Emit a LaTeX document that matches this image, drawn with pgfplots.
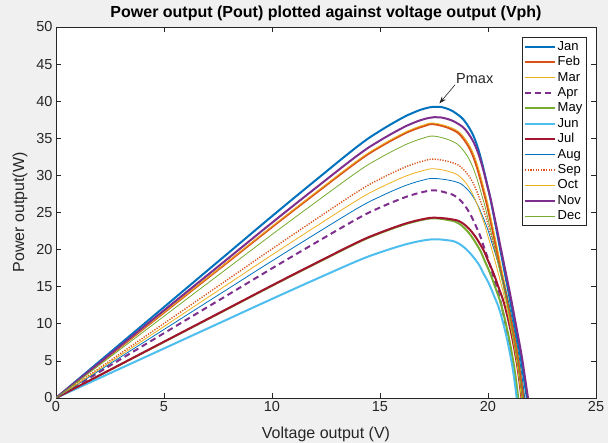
\documentclass[border=0pt]{standalone}
\usepackage{fontspec}
\setmainfont{Liberation Sans}
\usepackage{pgfplots}
\pgfplotsset{compat=1.18}
\usetikzlibrary{arrows.meta}
\definecolor{c1}{rgb}{0,0.447,0.741}
\definecolor{c2}{rgb}{0.851,0.325,0.098}
\definecolor{c3}{rgb}{0.929,0.694,0.125}
\definecolor{c4}{rgb}{0.494,0.184,0.556}
\definecolor{c5}{rgb}{0.466,0.674,0.188}
\definecolor{c6}{rgb}{0.301,0.745,0.933}
\definecolor{c7}{rgb}{0.635,0.078,0.184}
\definecolor{figbg}{RGB}{240,240,240}
\definecolor{axc}{RGB}{38,38,38}
\begin{document}
\begin{tikzpicture}
\fill[figbg] (0,0) rectangle (608pt,443pt);
\begin{axis}[
  at={(56pt,45pt)}, anchor=south west,
  scale only axis, width=540pt, height=371pt,
  xmin=0, xmax=25, ymin=0, ymax=50,
  xtick={0,5,...,25}, ytick={0,5,...,50},
  axis background/.style={fill=white},
  axis line style={draw=axc, line width=0.6pt},
  every tick/.style={draw=axc, line width=0.6pt},
  major tick length=5pt,
  tick align=inside,
  /pgf/number format/assume math mode=true,
  tick label style={font=\fontsize{14.5}{17}\selectfont, text=axc},
  xlabel={Voltage output (V)},
  ylabel={Power output(W)},
  xlabel style={at={(axis description cs:0.5,-0.097)}, anchor=center, inner sep=0pt, font=\fontsize{16}{18}\selectfont, text=axc},
  ylabel style={at={(axis description cs:-0.0667,0.5)}, anchor=center, inner sep=0pt, rotate=0, font=\fontsize{16}{18}\selectfont, text=axc},
  title={Power output (Pout) plotted against voltage output (Vph)},
  title style={at={(axis description cs:0.5,1.0216)}, anchor=center, inner sep=0pt, font=\fontsize{16}{18}\selectfont\bfseries},
  legend cell align=left,
  legend image code/.code={\draw[#1] (0pt,0pt) -- (30pt,0pt);},
  legend style={at={(axis description cs:0.9815,0.9739)}, anchor=north east,
    draw=axc, line width=0.5pt, fill=white,
    font=\fontsize{13}{15}\selectfont,
    nodes={inner xsep=1.5pt, inner ysep=0.5pt, text height=10.8pt, text depth=3.6pt},
    row sep=0pt, inner xsep=2pt, inner ysep=2pt},
  every axis plot/.append style={smooth, tension=0.65},
]
\addplot[c1, line width=2pt] coordinates {(0,0)(2,4.9)(4,9.8)(6,14.7)(8,19.6)(10,24.5)(12,29.3)(14,34.0)(15,36.0)(16,37.7)(16.5,38.4)(17,38.95)(17.5,39.25)(18,39.1)(18.5,38.4)(19,37.0)(19.5,34.0)(20,28.3)(20.25,24.8)(20.5,21.0)(20.75,17.25)(21,13.5)(21.3,8.8)(21.5,5.7)(21.65,2.85)(21.8,0)};
\addlegendentry{Jan}
\addplot[c2, line width=2pt] coordinates {(0,0)(2,4.61)(4,9.21)(6,13.82)(8,18.42)(10,23.03)(12,27.54)(14,31.96)(15,33.84)(16,35.44)(16.5,36.10)(17,36.61)(17.5,36.90)(18.35,36.17)(18.85,34.98)(19.35,32.28)(19.85,27.23)(20.1,24.08)(20.35,20.66)(20.6,17.19)(20.85,13.73)(21.15,9.13)(21.35,5.96)(21.5,3.09)(21.65,0)};
\addlegendentry{Feb}
\addplot[c3, line width=0.8pt] coordinates {(0,0)(2,4.63)(4,9.25)(6,13.88)(8,18.50)(10,23.13)(12,27.66)(14,32.10)(15,33.98)(16,35.59)(16.5,36.25)(17,36.77)(17.5,37.05)(18.4,36.31)(18.9,35.11)(19.4,32.39)(19.9,27.30)(20.15,24.12)(20.4,20.68)(20.65,17.19)(20.9,13.71)(21.2,9.11)(21.4,5.95)(21.55,3.08)(21.7,0)};
\addlegendentry{Mar}
\addplot[c4, line width=2pt, dash pattern=on 6pt off 4pt] coordinates {(0,0)(2,3.49)(4,6.99)(6,10.48)(8,13.97)(10,17.47)(12,20.89)(14,24.24)(15,25.67)(16,26.88)(16.5,27.38)(17,27.77)(17.5,27.99)(18.05,27.68)(18.55,27.07)(19.05,25.41)(19.55,22.46)(19.8,20.43)(20.05,18.31)(20.3,15.89)(20.55,13.37)(20.85,9.41)(21.05,6.28)(21.2,3.47)(21.35,0)};
\addlegendentry{Apr}
\addplot[c5, line width=2pt] coordinates {(0,0)(2,3.02)(4,6.05)(6,9.07)(8,12.09)(10,15.12)(12,18.08)(14,20.98)(15,22.21)(16,23.26)(16.5,23.69)(17,24.03)(17.5,24.22)(18.1,24.01)(18.6,23.60)(19.1,22.30)(19.6,20.08)(19.85,18.46)(20.1,16.80)(20.35,14.79)(20.6,12.65)(20.9,9.05)(21.1,6.08)(21.25,3.42)(21.4,0)};
\addlegendentry{May}
\addplot[c6, line width=2pt] coordinates {(0,0)(2,2.67)(4,5.34)(6,8.01)(8,10.68)(10,13.35)(12,15.97)(14,18.53)(15,19.62)(16,20.55)(16.5,20.93)(17,21.23)(17.5,21.39)(18.03,21.29)(18.53,20.99)(19.03,19.94)(19.53,18.19)(19.78,16.84)(20.03,15.49)(20.28,13.76)(20.53,11.90)(20.83,8.60)(21.03,5.80)(21.18,3.30)(21.33,0)};
\addlegendentry{Jun}
\addplot[c7, line width=2pt] coordinates {(0,0)(2,3.03)(4,6.07)(6,9.10)(8,12.13)(10,15.17)(12,18.14)(14,21.05)(15,22.28)(16,23.34)(16.5,23.77)(17,24.11)(17.5,24.30)(18.25,24.11)(18.75,23.69)(19.25,22.39)(19.75,20.15)(20,18.51)(20.25,16.85)(20.5,14.82)(20.75,12.68)(21.05,9.07)(21.25,6.09)(21.4,3.42)(21.55,0)};
\addlegendentry{Jul}
\addplot[c1, line width=0.8pt] coordinates {(0,0)(2,3.69)(4,7.39)(6,11.08)(8,14.78)(10,18.47)(12,22.09)(14,25.64)(15,27.14)(16,28.43)(16.5,28.95)(17,29.37)(17.5,29.59)(18.4,29.22)(18.9,28.52)(19.4,26.69)(19.9,23.41)(20.15,21.19)(20.4,18.86)(20.65,16.26)(20.9,13.58)(21.2,9.48)(21.4,6.31)(21.55,3.46)(21.7,0)};
\addlegendentry{Aug}
\addplot[c2, line width=1.4pt, dash pattern=on 1.2pt off 1.4pt] coordinates {(0,0)(2,4.02)(4,8.04)(6,12.05)(8,16.07)(10,20.09)(12,24.03)(14,27.88)(15,29.52)(16,30.91)(16.5,31.49)(17,31.94)(17.5,32.19)(18.35,31.71)(18.85,30.85)(19.35,28.73)(19.85,24.86)(20.1,22.32)(20.35,19.63)(20.6,16.73)(20.85,13.77)(21.15,9.48)(21.35,6.27)(21.5,3.38)(21.65,0)};
\addlegendentry{Sep}
\addplot[c3, line width=0.8pt] coordinates {(0,0)(2,3.86)(4,7.71)(6,11.57)(8,15.43)(10,19.28)(12,23.06)(14,26.76)(15,28.33)(16,29.67)(16.5,30.22)(17,30.65)(17.5,30.89)(18.25,30.47)(18.75,29.69)(19.25,27.71)(19.75,24.15)(20,21.77)(20.25,19.27)(20.5,16.52)(20.75,13.69)(21.05,9.50)(21.25,6.30)(21.4,3.43)(21.55,0)};
\addlegendentry{Oct}
\addplot[c4, line width=2pt] coordinates {(0,0)(2,4.72)(4,9.45)(6,14.17)(8,18.89)(10,23.62)(12,28.25)(14,32.78)(15,34.70)(16,36.34)(16.5,37.02)(17,37.55)(17.5,37.84)(18,37.7)(18.55,37.07)(19.05,35.81)(19.55,32.97)(20.05,27.67)(20.3,24.38)(20.55,20.81)(20.8,17.22)(21.05,13.64)(21.35,9.00)(21.55,5.86)(21.7,3.00)(21.85,0)};
\addlegendentry{Nov}
\addplot[c5, line width=0.8pt] coordinates {(0,0)(2,4.41)(4,8.81)(6,13.22)(8,17.62)(10,22.03)(12,26.34)(14,30.57)(15,32.36)(16,33.89)(16.5,34.52)(17,35.02)(17.5,35.29)(18.3,34.66)(18.8,33.58)(19.3,31.09)(19.8,26.46)(20.05,23.52)(20.3,20.36)(20.55,17.09)(20.8,13.80)(21.1,9.29)(21.3,6.10)(21.45,3.21)(21.6,0)};
\addlegendentry{Dec}
\draw[-{Stealth[length=7pt,width=5pt]}, axc, line width=0.6pt] (axis cs:18.47,42.2) -- (axis cs:17.75,39.7);
\node[anchor=west, inner sep=0pt, font=\fontsize{14.5}{17}\selectfont, text=axc] at (axis cs:18.52,43.1) {Pmax};
\end{axis}
\pgfresetboundingbox
\path[use as bounding box] (0,0) rectangle (608pt,443pt);
\end{tikzpicture}
\end{document}
